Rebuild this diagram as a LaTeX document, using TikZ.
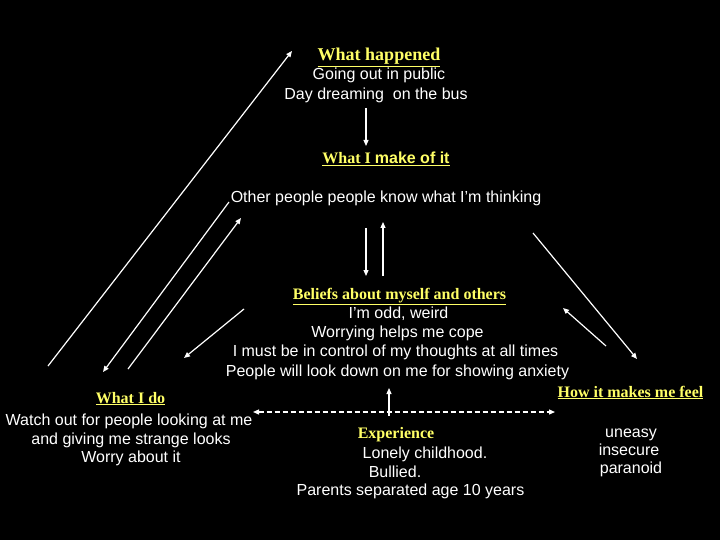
\documentclass[tikz,border=0pt]{standalone}
\usepackage{fontspec}
\setmainfont{Liberation Sans}
\setsansfont{Liberation Sans}
\newfontfamily\hfont{Liberation Serif}
\usetikzlibrary{arrows.meta}
\definecolor{hy}{RGB}{255,255,102}
\begin{document}
\begin{tikzpicture}[x=1bp,y=-1bp,
 body/.style={text=white,font=\fontsize{16bp}{19bp}\selectfont,anchor=base,inner sep=0pt},
 head/.style={text=hy,font=\hfont\bfseries\fontsize{16bp}{19bp}\selectfont,anchor=base,inner sep=0pt},
 arr/.style={draw=white,line width=1.2bp,-{Triangle[length=6bp,width=5bp]}},
 darr/.style={draw=white,line width=1.2bp,dashed,dash pattern=on 5bp off 3bp,{Triangle[length=6bp,width=5bp]}-{Triangle[length=6bp,width=5bp]}},
]
\fill[black] (0,0) rectangle (720,540);
\useasboundingbox (0,0) rectangle (720,540);

% top block
\node[head,font=\hfont\bfseries\fontsize{18bp}{19bp}\selectfont] (h1) at (379,61) {\underline{What happened}};
\node[body] (t1a) at (379,80) {Going out in public};
\node[body] (t1b) at (376,100) {Day dreaming\ \ on the bus};

\node[head] (h2) at (386,164) {\underline{What I {\sffamily make of it}}};
\node[body] (t2) at (386,203) {Other people people know what I’m thinking};

% beliefs
\node[head] (h3) at (399.5,299) {\underline{Beliefs about myself and others}};
\node[body] (b1) at (398.5,318) {I’m odd, weird};
\node[body] (b2) at (397.5,337) {Worrying helps me cope};
\node[body] (b3) at (395.5,356) {I must be in control of my thoughts at all times};
\node[body] (b4) at (397.5,376) {People will look down on me for showing anxiety};

% feel
\node[head] (h4) at (630.5,397) {\underline{How it makes me feel}};
\node[body] (f1) at (631,437) {uneasy};
\node[body] (f2) at (629,455) {insecure};
\node[body] (f3) at (631,473) {paranoid};

% do
\node[head] (h5) at (130.5,403) {\underline{What I do}};
\node[body] (d1) at (129,425) {Watch out for people looking at me};
\node[body] (d2) at (131,444) {and giving me strange looks};
\node[body] (d3) at (131,462) {Worry about it};

% experience
\node[head] (h6) at (396,438) {Experience};
\node[body] (e1) at (425,458) {Lonely childhood.};
\node[body] (e2) at (395,477) {Bullied.};
\node[body] (e3) at (410.5,495) {Parents separated age 10 years};

% arrow end points
\coordinate (a1s) at (48,366);  \coordinate (a1e) at (292,51);
\coordinate (a2s) at (229,202); \coordinate (a2e) at (103,372);
\coordinate (a3s) at (128,369); \coordinate (a3e) at (241,218);
\coordinate (a4s) at (244,309); \coordinate (a4e) at (184,358);
\coordinate (v1s) at (366,108); \coordinate (v1e) at (366,146);
\coordinate (v2s) at (366,228); \coordinate (v2e) at (366,276);
\coordinate (v3s) at (383,276); \coordinate (v3e) at (383,222);
\coordinate (r1s) at (533,233); \coordinate (r1e) at (637,359);
\coordinate (r2s) at (606,346); \coordinate (r2e) at (563,308);
\coordinate (dl) at (253,412);  \coordinate (dr) at (555,412);
\coordinate (u1s) at (389,416); \coordinate (u1e) at (389,388);

\draw[arr] (a1s) -- (a1e);
\draw[arr] (a2s) -- (a2e);
\draw[arr] (a3s) -- (a3e);
\draw[arr] (a4s) -- (a4e);
\draw[arr] (v1s) -- (v1e);
\draw[arr] (v2s) -- (v2e);
\draw[arr] (v3s) -- (v3e);
\draw[arr] (r1s) -- (r1e);
\draw[arr] (r2s) -- (r2e);
\draw[darr] (dl) -- (dr);
\draw[arr] (u1s) -- (u1e);
\end{tikzpicture}
\end{document}
